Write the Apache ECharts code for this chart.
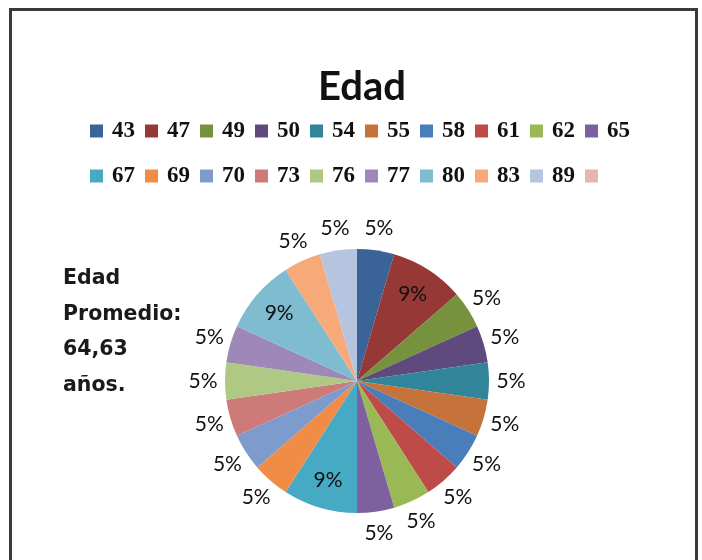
<!DOCTYPE html>
<html>
<head>
<meta charset="utf-8">
<script src="https://cdn.jsdelivr.net/npm/echarts@6/dist/echarts.min.js"></script>
<style>
html,body{margin:0;padding:0;background:#fff;}
#chart{width:702px;height:560px;}
</style>
</head>
<body>
<div id="chart"></div>
<script>
// Data
const titleText = 'Edad';
const ages = ['43','47','49','50','54','55','58','61','62','65','67','69','70','73','76','77','80','83','89',' '];
const counts = [1,2,1,1,1,1,1,1,1,1,2,1,1,1,1,1,2,1,1,0];
const colors = ['#3A6498','#953836','#76923C','#5F4A7D','#31859B','#C5733B','#4A7EBB','#BE4B48','#98B954','#7E60A0',
                '#46AAC5','#F08C45','#7D9CCD','#CD7A79','#AFC985','#9D88B8','#7FBCCF','#F7A97A','#B5C5E0','#E2B5B6'];
const noteLines = ['Edad', 'Promedio:', '64,63', 'años.'];

const chart = echarts.init(document.getElementById('chart'), null, {renderer: 'canvas'});

const total = counts.reduce((a, b) => a + b, 0);
const labelFont = {fontFamily: 'Lato', fontSize: 21, color: '#111'};
const fmt = p => Math.round(p.percent) + '%';

const mainData = ages.map((a, i) => ({name: a, value: counts[i], itemStyle: {color: colors[i]}}));
// outer ring carries the small-slice labels, inner ring carries the big-slice labels
const outerData = ages.map((a, i) => ({name: a, value: counts[i],
  label: {show: counts[i] > 0 && counts[i] / total < 0.07}}));
const innerData = ages.map((a, i) => ({name: a, value: counts[i],
  label: {show: counts[i] / total >= 0.07}}));

const center = [357, 381];
const ringBase = {
  type: 'pie', center: center, silent: true, startAngle: 90, clockwise: true,
  percentPrecision: 2,
  itemStyle: {color: 'rgba(0,0,0,0)', borderWidth: 0},
  emphasis: {disabled: true},
  labelLine: {show: false},
  tooltip: {show: false},
  animation: false
};

const graphics = [
  {type: 'rect', shape: {x: 10.5, y: 9.5, width: 686, height: 600},
   style: {fill: 'none', stroke: '#3a3a3a', lineWidth: 3}, silent: true, z: 100}
];
noteLines.forEach((t, i) => {
  graphics.push({type: 'text', left: 63, top: 268 + i * 35.7,
    style: {text: t, fontFamily: 'DejaVu Sans', fontWeight: 'bold', fontSize: 20.5, fill: '#1a1a1a'}});
});

chart.setOption({
  animation: false,
  title: {
    text: titleText, left: 357, top: 62, textAlign: 'center',
    textStyle: {fontFamily: 'Lato', fontWeight: 'bold', fontSize: 40, color: '#111'}
  },
  legend: {
    left: 90, top: 113, width: 548, padding: 0,
    itemWidth: 13, itemHeight: 13, itemGap: 9, icon: 'rect',
    selectedMode: false,
    data: ages,
    textStyle: {fontFamily: 'Liberation Serif', fontWeight: 'bold', fontSize: 23, color: '#111',
      width: 24, lineHeight: 36, padding: [0, 0, 0, 4]}
  },
  graphic: graphics,
  series: [
    {
      type: 'pie', name: 'main', center: center, radius: 132, startAngle: 90, clockwise: true,
      data: mainData, label: {show: false}, labelLine: {show: false},
      itemStyle: {borderWidth: 0}, emphasis: {disabled: true}, animation: false
    },
    Object.assign({}, ringBase, {
      name: 'outerLabels', radius: [132, 170], data: outerData,
      label: Object.assign({position: 'inside', formatter: fmt}, labelFont)
    }),
    Object.assign({}, ringBase, {
      name: 'innerLabels', radius: [68, 132], data: innerData,
      label: Object.assign({position: 'inside', formatter: fmt}, labelFont)
    })
  ]
});
</script>
</body>
</html>
